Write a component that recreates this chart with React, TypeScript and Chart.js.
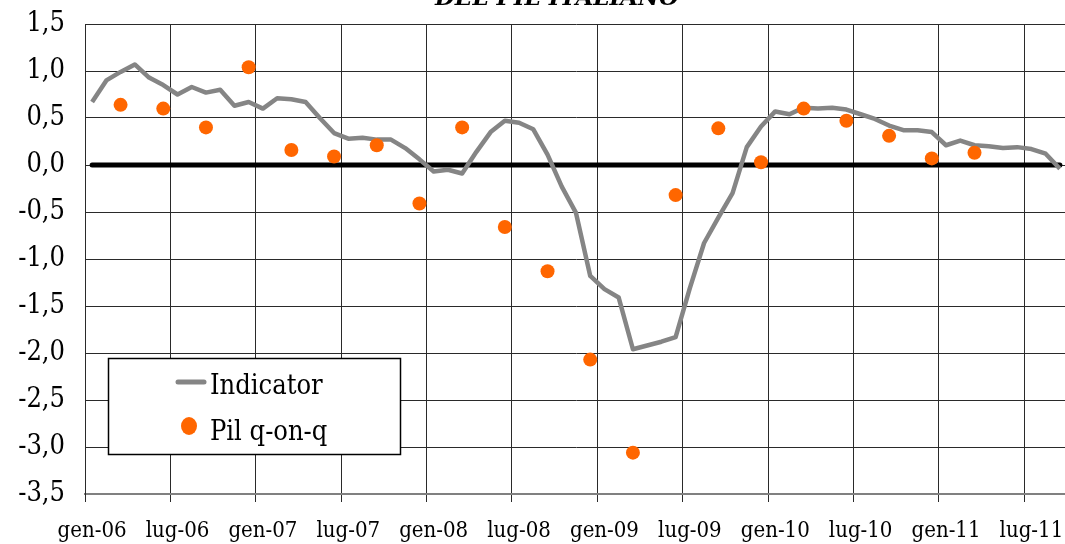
import React, { useEffect, useRef } from "react";
import { Chart, registerables } from "chart.js";

Chart.register(...registerables);

const MONTHS = ["gen", "feb", "mar", "apr", "mag", "giu", "lug", "ago", "set", "ott", "nov", "dic"];
const YEARS = ["06", "07", "08", "09", "10", "11"];
const LAST_MONTH_2011 = 9; // through set-11

const categories: string[] = [];
YEARS.forEach((y) => {
  const n = y === "11" ? LAST_MONTH_2011 : 12;
  for (let m = 0; m < n; m++) categories.push(`${MONTHS[m]}-${y}`);
});

const indicatorValues = [
  0.67, 0.90, 0.99, 1.07, 0.93, 0.85, 0.75, 0.83, 0.77, 0.80, 0.63, 0.67,
  0.60, 0.71, 0.70, 0.67, 0.50, 0.34, 0.28, 0.29, 0.27, 0.27, 0.18, 0.06,
  -0.07, -0.05, -0.09, 0.14, 0.35, 0.47, 0.45, 0.38, 0.11, -0.23, -0.51, -1.18,
  -1.32, -1.41, -1.96, -1.92, -1.88, -1.83, -1.31, -0.83, -0.56, -0.30, 0.19, 0.41,
  0.57, 0.54, 0.61, 0.60, 0.61, 0.59, 0.54, 0.49, 0.42, 0.37, 0.37, 0.35,
  0.21, 0.26, 0.21, 0.20, 0.18, 0.19, 0.17, 0.12, -0.04,
];

const pilQuarters = [
  "mar-06", "giu-06", "set-06", "dic-06",
  "mar-07", "giu-07", "set-07", "dic-07",
  "mar-08", "giu-08", "set-08", "dic-08",
  "mar-09", "giu-09", "set-09", "dic-09",
  "mar-10", "giu-10", "set-10", "dic-10",
  "mar-11",
];
const pilValues = [
  0.64, 0.60, 0.40, 1.04,
  0.16, 0.09, 0.21, -0.41,
  0.40, -0.66, -1.13, -2.07,
  -3.06, -0.32, 0.39, 0.03,
  0.60, 0.47, 0.31, 0.07,
  0.13,
];

const yTickMin = -3.5;
const yTickMax = 1.5;
const yTickStep = 0.5;
const xLabelEvery = 6;

const legendLabels = ["Indicator", "Pil q-on-q"];
const titleText = "DEL PIL ITALIANO";

const FONT = '"DejaVu Serif Condensed", "DejaVu Serif", serif';
const GRID = "#2a2a2a";
const LINE_GRAY = "#858585";
const ORANGE = "#FF6600";

const titlePlugin = {
  id: "cutTitle",
  afterDraw(chart: any) {
    const ctx = chart.ctx;
    ctx.save();
    ctx.fillStyle = "#000";
    ctx.font = `italic bold 23px "DejaVu Serif", serif`;
    ctx.textAlign = "center";
    ctx.textBaseline = "alphabetic";
    ctx.fillText(titleText, 557, 5);
    ctx.restore();
  },
};

const legendPlugin = {
  id: "boxLegend",
  afterDraw(chart: any) {
    const ctx = chart.ctx;
    ctx.save();
    ctx.fillStyle = "#fff";
    ctx.fillRect(108, 358, 293, 97);
    ctx.strokeStyle = "#000";
    ctx.lineWidth = 1.5;
    ctx.strokeRect(108.5, 358.5, 292, 96);
    ctx.strokeStyle = LINE_GRAY;
    ctx.lineWidth = 5;
    ctx.lineCap = "round";
    ctx.beginPath();
    ctx.moveTo(178, 382);
    ctx.lineTo(204, 382);
    ctx.stroke();
    ctx.fillStyle = ORANGE;
    ctx.beginPath();
    ctx.ellipse(189, 426, 8, 9, 0, 0, Math.PI * 2);
    ctx.fill();
    ctx.fillStyle = "#000";
    ctx.font = `27px ${FONT}`;
    ctx.textAlign = "left";
    ctx.textBaseline = "alphabetic";
    ctx.fillText(legendLabels[0], 210, 394);
    ctx.fillText(legendLabels[1], 210, 440);
    ctx.restore();
  },
};

export default function App() {
  const ref = useRef<HTMLCanvasElement | null>(null);

  useEffect(() => {
    if (!ref.current) return;
    const gridColor = (c: any) => (c.index % xLabelEvery === 0 ? GRID : "rgba(0,0,0,0)");
    const chart = new Chart(ref.current, {
      type: "line",
      data: {
        labels: categories,
        datasets: [
          {
            label: "zero",
            data: categories.map(() => 0),
            borderColor: "#000",
            borderWidth: 5,
            pointRadius: 0,
            borderCapStyle: "round",
            order: 3,
          },
          {
            label: legendLabels[0],
            data: indicatorValues,
            borderColor: LINE_GRAY,
            borderWidth: 4.5,
            pointRadius: 0,
            tension: 0,
            borderJoinStyle: "round",
            order: 2,
          },
          {
            label: legendLabels[1],
            data: pilQuarters.map((q, i) => ({ x: q, y: pilValues[i] })),
            showLine: false,
            pointRadius: 7,
            pointBackgroundColor: ORANGE,
            pointBorderColor: ORANGE,
            pointBorderWidth: 0,
            order: 1,
          },
        ],
      },
      options: {
        responsive: false,
        animation: false,
        layout: { padding: { left: 0, right: 8, top: 24, bottom: 0 } },
        plugins: { legend: { display: false }, tooltip: { enabled: false }, title: { display: false } },
        scales: {
          x: {
            type: "category",
            offset: true,
            grid: {
              offset: true,
              color: gridColor,
              tickColor: gridColor,
              lineWidth: 1,
              drawTicks: true,
              tickLength: 8,
            },
            border: { display: true, color: "#808080", width: 2 },
            ticks: {
              autoSkip: false,
              maxRotation: 0,
              minRotation: 0,
              padding: 16,
              color: "#000",
              font: { family: FONT, size: 22 },
              callback: (_v: any, i: number) => (i % xLabelEvery === 0 ? categories[i] : ""),
            },
            afterFit: (s: any) => {
              s.height = 50;
              s.paddingLeft = 0;
              s.paddingRight = 0;
            },
          },
          y: {
            min: yTickMin,
            max: yTickMax,
            grid: { color: GRID, lineWidth: 1, drawTicks: false },
            border: { display: true, color: GRID, width: 1 },
            ticks: {
              stepSize: yTickStep,
              padding: 20,
              color: "#000",
              font: { family: FONT, size: 27 },
              callback: (v: any) => Number(v).toFixed(1).replace(".", ","),
            },
            afterFit: (s: any) => {
              s.width = 85;
              s.paddingTop = 0;
              s.paddingBottom = 0;
            },
          },
        },
      },
      plugins: [legendPlugin, titlePlugin],
    });
    return () => chart.destroy();
  }, []);

  return (
    <div
      style={{
        position: "fixed",
        left: 0,
        top: 0,
        width: 1065,
        height: 544,
        overflow: "hidden",
        background: "#fff",
      }}
    >
      <canvas ref={ref} width={1075} height={544} style={{ display: "block", width: 1075, height: 544 }} />
    </div>
  );
}
